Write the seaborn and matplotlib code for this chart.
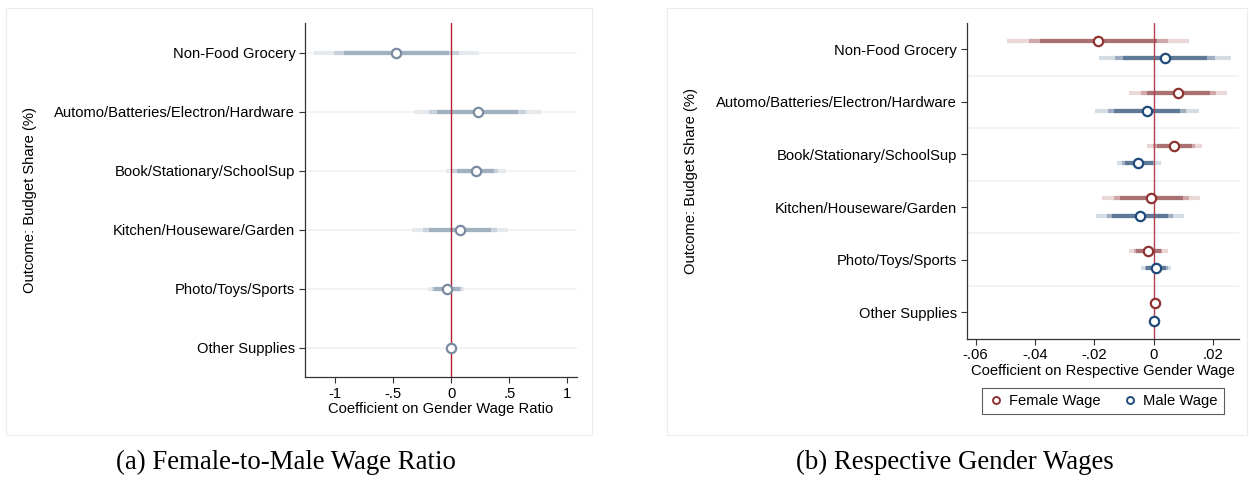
import numpy as np
import pandas as pd
import matplotlib
matplotlib.use("Agg")
import matplotlib.pyplot as plt
from matplotlib.lines import Line2D
from matplotlib.patches import Rectangle
import seaborn as sns

# ---------------- data ----------------
categories = ["Non-Food Grocery", "Automo/Batteries/Electron/Hardware",
              "Book/Stationary/SchoolSup", "Kitchen/Houseware/Garden",
              "Photo/Toys/Sports", "Other Supplies"]

# Panel (a): coefficient on female-to-male wage ratio
ratio_coef = [-0.474, 0.227, 0.210, 0.072, -0.040, 0.000]
ratio_lo90 = [-0.925, -0.123, 0.046, -0.192, -0.149, 0.000]
ratio_hi90 = [-0.017, 0.578, 0.371, 0.342, 0.075, 0.000]
ratio_lo95 = [-1.010, -0.192, 0.009, -0.244, -0.169, 0.000]
ratio_hi95 = [0.069, 0.644, 0.405, 0.394, 0.090, 0.000]
ratio_lo99 = [-1.180, -0.320, -0.046, -0.339, -0.198, 0.000]
ratio_hi99 = [0.239, 0.773, 0.469, 0.491, 0.112, 0.000]

# Panel (b): female wage coefficients
fem_coef = [-0.0187, 0.0083, 0.0070, -0.0008, -0.0019, 0.0004]
fem_lo90 = [-0.0383, -0.0023, 0.0010, -0.0114, -0.0060, 0.0004]
fem_hi90 = [0.0010, 0.0189, 0.0128, 0.0098, 0.0024, 0.0004]
fem_lo95 = [-0.0421, -0.0043, -0.0003, -0.0133, -0.0066, 0.0004]
fem_hi95 = [0.0047, 0.0209, 0.0139, 0.0120, 0.0030, 0.0004]
fem_lo99 = [-0.0494, -0.0083, -0.0022, -0.0173, -0.0082, 0.0004]
fem_hi99 = [0.0121, 0.0248, 0.0162, 0.0158, 0.0047, 0.0004]

# Panel (b): male wage coefficients
male_coef = [0.0038, -0.0023, -0.0051, -0.0046, 0.0008, 0.0001]
male_lo90 = [-0.0102, -0.0134, -0.0097, -0.0140, -0.0024, 0.0001]
male_hi90 = [0.0179, 0.0089, -0.0003, 0.0048, 0.0041, 0.0001]
male_lo95 = [-0.0130, -0.0155, -0.0106, -0.0158, -0.0029, 0.0001]
male_hi95 = [0.0207, 0.0111, 0.0001, 0.0067, 0.0047, 0.0001]
male_lo99 = [-0.0183, -0.0196, -0.0123, -0.0194, -0.0043, 0.0001]
male_hi99 = [0.0260, 0.0152, 0.0024, 0.0102, 0.0058, 0.0001]

series_names = ["Female Wage", "Male Wage"]

a_ticks = [-1, -0.5, 0, 0.5, 1]
a_ticklabels = ["-1", "-.5", "0", ".5", "1"]
b_ticks = [-0.06, -0.04, -0.02, 0, 0.02]
b_ticklabels = ["-.06", "-.04", "-.02", "0", ".02"]

# ---------------- style ----------------
sns.set_theme(style="white")
plt.rcParams["font.family"] = ["Liberation Sans", "DejaVu Sans"]
plt.rcParams["text.color"] = "black"
plt.rcParams["axes.labelcolor"] = "black"

FS = 10.6

fig = plt.figure(figsize=(12.49, 4.80), dpi=100)
W, H = 1249, 480

def fx(px):
    return px / W

def fy(py):
    return 1 - py / H

# panel frames
for (x0, x1) in [(6, 592), (667, 1247)]:
    fig.patches.append(Rectangle((fx(x0), fy(435)), fx(x1) - fx(x0), fy(8) - fy(435),
                                 transform=fig.transFigure, fill=False,
                                 edgecolor="#ececec", linewidth=0.8, zorder=0))

axA = fig.add_axes([fx(305), fy(377), fx(577) - fx(305), fy(23) - fy(377)])
axB = fig.add_axes([fx(966.7), fy(338.5), fx(1239) - fx(966.7), fy(23) - fy(338.5)])

ypos = np.arange(len(categories))
LW_CI = 3.0

def draw_ci(ax, y, lo, hi, color, z):
    ax.hlines(y, lo, hi, colors=color, linewidth=LW_CI, zorder=z)

def style_axis(ax):
    for s in ["top", "right"]:
        ax.spines[s].set_visible(False)
    for s in ["left", "bottom"]:
        ax.spines[s].set_color("#333333")
        ax.spines[s].set_linewidth(0.9)
    ax.tick_params(axis="both", direction="out", length=4, width=0.8,
                   color="#333333", labelsize=FS, labelcolor="black",
                   left=True, bottom=True, pad=3)
    ax.set_yticks(ypos)
    ax.set_yticklabels(categories)
    ax.set_ylim(5.5, -0.5)
    ax.grid(False)

# ---------------- panel (a) ----------------
for y in ypos:
    axA.axhline(y, color="#eef2f3", linewidth=1.2, zorder=1)
draw_ci(axA, ypos, ratio_lo99, ratio_hi99, "#e6eaee", 2)
draw_ci(axA, ypos, ratio_lo95, ratio_hi95, "#c9d2db", 3)
draw_ci(axA, ypos, ratio_lo90, ratio_hi90, "#a2b1c0", 4)
axA.axvline(0, color="#b0202e", linewidth=1.0, zorder=5)
dfA = pd.DataFrame({"coef": ratio_coef, "y": ypos})
sns.scatterplot(data=dfA, x="coef", y="y", ax=axA, marker="o", s=45,
                facecolor="white", edgecolor="#7a8ba0", linewidth=1.6, zorder=6,
                legend=False)
style_axis(axA)
axA.set_xlim(-1.261, 1.084)
axA.set_xticks(a_ticks)
axA.set_xticklabels(a_ticklabels)
axA.set_xlabel("Coefficient on Gender Wage Ratio", fontsize=FS, labelpad=1)
axA.set_ylabel("Outcome: Budget Share (%)", fontsize=FS)
axA.yaxis.set_label_coords(-0.985, 0.5)

# ---------------- panel (b) ----------------
off = 0.167
for y in ypos[:-1] + 0.5:
    axB.axhline(y, color="#eef2f3", linewidth=1.2, zorder=1)
yf = ypos - off
ym = ypos + off
draw_ci(axB, yf, fem_lo99, fem_hi99, "#ead8d8", 2)
draw_ci(axB, yf, fem_lo95, fem_hi95, "#cfa7a7", 3)
draw_ci(axB, yf, fem_lo90, fem_hi90, "#a97171", 4)
draw_ci(axB, ym, male_lo99, male_hi99, "#d4dce4", 2)
draw_ci(axB, ym, male_lo95, male_hi95, "#9eaec0", 3)
draw_ci(axB, ym, male_lo90, male_hi90, "#5f7a97", 4)
axB.axvline(0, color="#b04050", linewidth=1.0, zorder=5)

fem_color = "#8f3232"
male_color = "#1f4a7a"
dfB = pd.DataFrame({
    "coef": fem_coef + male_coef,
    "y": list(yf) + list(ym),
    "series": [series_names[0]] * len(fem_coef) + [series_names[1]] * len(male_coef),
})
for name, col in zip(series_names, [fem_color, male_color]):
    sub = dfB[dfB["series"] == name]
    sns.scatterplot(data=sub, x="coef", y="y", ax=axB, marker="o", s=45,
                    facecolor="white", edgecolor=col, linewidth=1.6, zorder=6,
                    legend=False)
style_axis(axB)
axB.set_xlim(-0.063, 0.0288)
axB.set_xticks(b_ticks)
axB.set_xticklabels(b_ticklabels)
axB.set_xlabel("Coefficient on Respective Gender Wage", fontsize=FS, labelpad=1)
axB.set_ylabel("Outcome: Budget Share (%)", fontsize=FS)
axB.yaxis.set_label_coords(-0.986, 0.5)

handles = [Line2D([], [], linestyle="none", marker="o", markersize=5,
                  markerfacecolor="white", markeredgecolor=c, markeredgewidth=1.4)
           for c in [fem_color, male_color]]
leg = fig.legend(handles, series_names, loc="center",
                 bbox_to_anchor=(fx(1103), fy(401)), ncol=2, frameon=True,
                 fontsize=FS, handletextpad=0.4, columnspacing=1.5,
                 borderpad=0.4, handlelength=1.0, fancybox=False)
leg.get_frame().set_edgecolor("#333333")
leg.get_frame().set_linewidth(0.8)

# subtitles
fig.text(fx(286), fy(462), "(a) Female-to-Male Wage Ratio", ha="center", va="center",
         fontsize=19.4, color="black", family=["Liberation Serif", "DejaVu Serif"])
fig.text(fx(955), fy(462), "(b) Respective Gender Wages", ha="center", va="center",
         fontsize=19.4, color="black", family=["Liberation Serif", "DejaVu Serif"])

fig.savefig("out.png", dpi=100, facecolor="white")
